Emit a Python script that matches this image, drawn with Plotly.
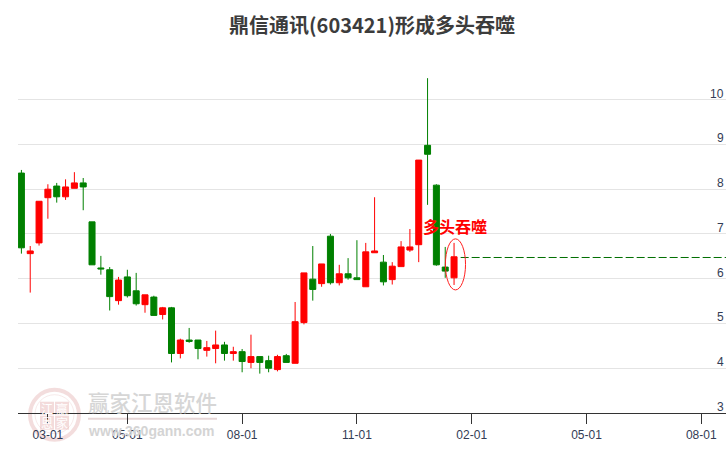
import plotly.graph_objects as go

W, H = 726, 450
L, R, T, B = 18, 726, 53.6, 413.3

week_index = list(range(50))
opens = [8.36, 6.56, 6.80, 7.81, 8.07, 7.83, 8.02, 8.14, 7.27, 6.24,
         6.20, 5.51, 6.04, 5.73, 5.42, 5.59, 5.20, 5.35, 4.33, 4.63,
         4.63, 4.40, 4.44, 4.52, 4.33, 4.37, 4.13, 4.26, 4.17, 3.97,
         4.28, 4.11, 5.02, 5.99, 5.89, 6.95, 5.91, 6.11, 6.02, 5.82,
         6.58, 6.37, 5.98, 6.27, 6.64, 6.76, 8.98, 8.09, 6.26, 6.02]
highs = [8.43, 6.73, 7.73, 8.11, 8.14, 8.22, 8.38, 8.25, 7.27, 6.51,
         6.26, 6.04, 6.20, 6.13, 5.64, 5.62, 5.37, 5.37, 4.66, 4.90,
         4.63, 4.61, 4.84, 4.59, 4.48, 4.43, 4.75, 4.26, 4.28, 4.30,
         4.32, 5.48, 6.13, 6.73, 6.33, 7.00, 6.31, 6.46, 6.86, 6.80,
         7.82, 6.53, 6.37, 6.84, 7.11, 8.65, 10.48, 8.11, 6.71, 6.80]
lows = [6.56, 5.69, 6.74, 7.34, 7.70, 7.76, 8.02, 7.53, 6.31, 6.09,
        5.29, 5.42, 5.58, 5.40, 5.24, 5.18, 5.09, 4.13, 4.22, 4.57,
        4.20, 4.26, 4.11, 4.17, 4.17, 3.91, 4.00, 3.88, 3.91, 3.93,
        4.13, 4.11, 4.98, 5.51, 5.82, 5.87, 5.85, 5.98, 5.98, 5.82,
        6.58, 5.85, 5.87, 6.27, 6.60, 6.37, 7.65, 6.29, 6.02, 5.86]
closes = [6.69, 6.62, 7.73, 8.00, 7.83, 8.05, 8.14, 8.05, 6.31, 6.22,
          5.60, 5.97, 5.62, 5.44, 5.64, 5.18, 5.35, 4.33, 4.63, 4.60,
          4.44, 4.46, 4.52, 4.33, 4.37, 4.15, 4.26, 4.13, 4.00, 4.26,
          4.13, 5.04, 6.13, 5.76, 6.33, 5.91, 6.11, 6.02, 5.98, 6.60,
          6.62, 5.93, 6.28, 6.71, 6.71, 8.65, 8.78, 6.31, 6.17, 6.49]

x_tick_positions = [3, 12, 25, 38, 51, 64, 77]
x_tick_labels = ["03-01", "05-01", "08-01", "11-01", "02-01", "05-01", "08-01"]
y_ticks = [3, 4, 5, 6, 7, 8, 9, 10, 11]
y_tick_labels = ["3", "4", "5", "6", "7", "8", "9", "10", ""]
x_range = [-0.385, 79.8]
y_range = [3, 11.02]
last_close_line_x = [49.75, 79.8]
last_close_line_y = [6.474, 6.474]
ellipse_x = [48.02, 50.3]
ellipse_y = [5.75, 6.89]


def px(x):
    return (x - L) / (R - L)


def py(y):
    return (B - y) / (B - T)


fig = go.Figure()
fig.add_trace(go.Candlestick(
    x=week_index, open=opens, high=highs, low=lows, close=closes,
    increasing=dict(line=dict(color="#ff0000", width=1), fillcolor="#ff0000"),
    decreasing=dict(line=dict(color="#008000", width=1), fillcolor="#008000"),
    whiskerwidth=0, showlegend=False, hoverinfo="skip",
))
fig.add_trace(go.Scatter(
    x=last_close_line_x, y=last_close_line_y, mode="lines",
    line=dict(color="#006f00", width=1, dash="8px,3px"),
    showlegend=False, hoverinfo="skip",
))

PINK = "rgba(225,165,165,0.40)"
shapes = [
    dict(type="circle", xref="x", yref="y", x0=ellipse_x[0], x1=ellipse_x[1],
         y0=ellipse_y[0], y1=ellipse_y[1], line=dict(color="#ff2020", width=1)),
    # watermark logo
    dict(type="circle", xref="paper", yref="paper", x0=px(30), x1=px(79), y0=py(440), y1=py(390),
         line=dict(color="rgba(225,170,170,0.40)", width=4), layer="below"),
    dict(type="circle", xref="paper", yref="paper", x0=px(35), x1=px(74), y0=py(434), y1=py(395),
         line=dict(color="rgba(225,170,170,0.25)", width=1), layer="below"),
    dict(type="rect", xref="paper", yref="paper", x0=px(40), x1=px(54), y0=py(415), y1=py(402),
         fillcolor=PINK, line=dict(width=0), layer="below"),
    dict(type="rect", xref="paper", yref="paper", x0=px(55), x1=px(69), y0=py(415), y1=py(402),
         fillcolor=PINK, line=dict(width=0), layer="below"),
    dict(type="rect", xref="paper", yref="paper", x0=px(40), x1=px(54), y0=py(430), y1=py(416),
         fillcolor=PINK, line=dict(width=0), layer="below"),
    dict(type="rect", xref="paper", yref="paper", x0=px(55), x1=px(69), y0=py(430), y1=py(416),
         fillcolor=PINK, line=dict(width=0), layer="below"),
    dict(type="rect", xref="paper", yref="paper", x0=px(88), x1=px(217), y0=py(420), y1=py(418),
         fillcolor="rgba(225,205,205,0.8)", line=dict(width=0), layer="below"),
]


def note(text, x, y, size, color, weight="normal", family="Noto Sans CJK SC"):
    return dict(text=text, xref="paper", yref="paper", x=px(x), y=py(y), showarrow=False,
                xanchor="center", yanchor="middle",
                font=dict(size=size, color=color, family=family, weight=weight))


annotations = [
    note("多头吞噬", 455, 225.5, 16, "#ff0000", "bold"),
    note("赢家江恩软件", 152.5, 402, 21.5, "#d6d6d6", 500),
    note("www.360gann.com", 151.5, 431, 14, "#d4d4d4", "bold", "Liberation Sans"),
    note("江", 47, 408.5, 12, "#ffffff"),
    note("赢", 62, 408.5, 12, "#ffffff"),
    note("恩", 47, 423, 12, "#ffffff"),
    note("家", 62, 423, 12, "#ffffff"),
]
for value, label in zip(y_ticks, y_tick_labels):
    if label:
        annotations.append(dict(
            text=label, xref="paper", yref="y", x=px(724), y=value, yshift=6, showarrow=False,
            xanchor="right", yanchor="middle", borderpad=0, borderwidth=0,
            font=dict(family="Liberation Sans", size=12, color="#333c55"),
        ))

fig.update_layout(
    width=W, height=H, autosize=False,
    margin=dict(l=L, r=W - R, t=T, b=H - B),
    paper_bgcolor="#ffffff", plot_bgcolor="#ffffff",
    title=dict(text="鼎信通讯(603421)形成多头吞噬", x=372 / W, xanchor="center", y=1 - 26 / H,
               yanchor="middle", font=dict(size=20, color="#3c3c3c", family="Noto Sans CJK SC", weight="bold")),
    boxgap=0.32, boxgroupgap=0,
    xaxis=dict(type="linear", range=x_range, tickmode="array", tickvals=x_tick_positions,
               ticktext=x_tick_labels, showgrid=False, zeroline=False, showline=True,
               linecolor="#333333", linewidth=1, ticks="outside", ticklen=10, tickwidth=1,
               tickcolor="#333333", rangeslider=dict(visible=False), ticklabelstandoff=1,
               tickfont=dict(family="Liberation Sans", size=12, color="#333c55")),
    yaxis=dict(range=y_range, side="right", tickmode="array", tickvals=y_ticks, showticklabels=False,
               showgrid=True, gridcolor="#e4e4e4", gridwidth=1.3, zeroline=False, showline=False,
               ticks=""),
    shapes=shapes, annotations=annotations,
)

fig.write_html("out.html", config={"displayModeBar": False},
               post_script="document.body.style.margin='0';document.documentElement.style.overflow='hidden';")
